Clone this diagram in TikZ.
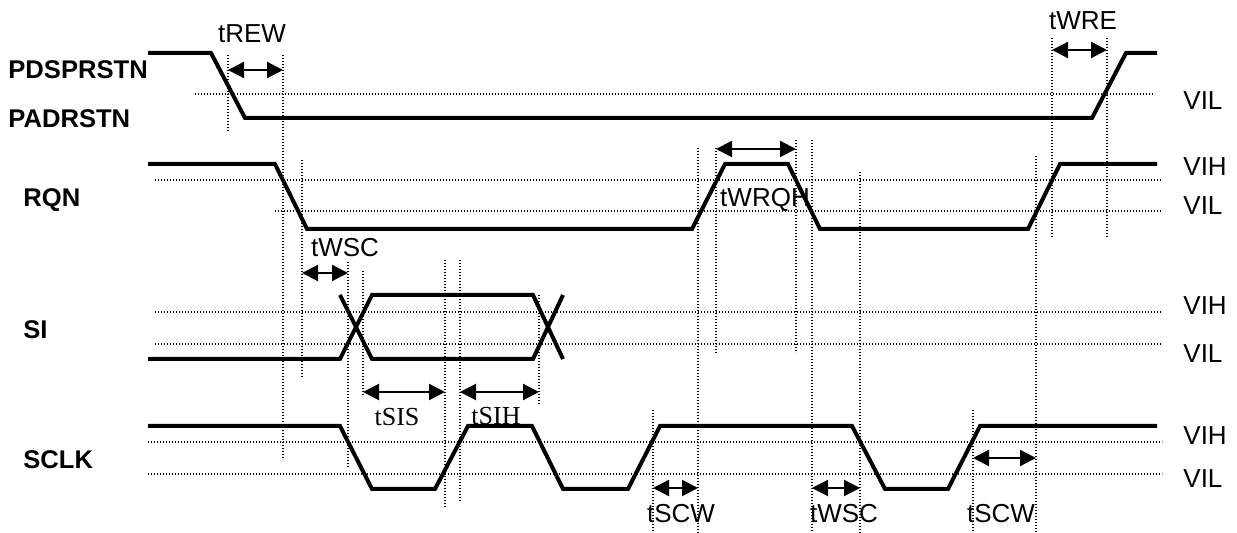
\documentclass[tikz,border=0pt]{standalone}
\usepackage{fontspec}
\setmainfont{Liberation Sans}
\newfontfamily\serifsig{Liberation Serif}
\usetikzlibrary{arrows.meta}

\begin{document}
\begin{tikzpicture}[x=0.5pt, y=-0.5pt,
  wave/.style={line width=2pt, line join=miter},
  guide/.style={line width=0.7pt, dash pattern=on 0.7pt off 0.8pt},
  dim/.style={line width=1.1pt, {Triangle[length=8pt,width=8pt]}-{Triangle[length=8pt,width=8pt]}},
  signame/.style={font=\fontsize{12.8}{15}\selectfont\bfseries, anchor=base west, inner sep=0pt},
  level/.style={font=\fontsize{13}{15}\selectfont, anchor=base west, inner sep=0pt},
  tlabel/.style={font=\fontsize{13}{15}\selectfont, anchor=base, inner sep=0pt},
  tserif/.style={font=\fontsize{13}{15}\selectfont\serifsig, anchor=base, inner sep=0pt}]
  \useasboundingbox (0,0) rectangle (1237,533);

  \draw[guide] (195,94) -- (1155,94);
  \draw[guide] (155,180) -- (1162,180);
  \draw[guide] (275,211) -- (1162,211);
  \draw[guide] (155,312) -- (1162,312);
  \draw[guide] (155,344) -- (1162,344);
  \draw[guide] (148,442) -- (1162,442);
  \draw[guide] (148,474) -- (1162,474);

  \draw[guide] (228,55) -- (228,132);
  \draw[guide] (283,55) -- (283,460);
  \draw[guide] (302,160) -- (302,378);
  \draw[guide] (348,262) -- (348,467);
  \draw[guide] (363,271) -- (363,397);
  \draw[guide] (445,260) -- (445,508);
  \draw[guide] (460,260) -- (460,502);
  \draw[guide] (539,295) -- (539,405);
  \draw[guide] (653,410) -- (653,533);
  \draw[guide] (698,148) -- (698,533);
  \draw[guide] (716,148) -- (716,353);
  \draw[guide] (796,140) -- (796,353);
  \draw[guide] (812,140) -- (812,533);
  \draw[guide] (860,172) -- (860,533);
  \draw[guide] (973,410) -- (973,533);
  \draw[guide] (1036,156) -- (1036,533);
  \draw[guide] (1052,38) -- (1052,237);
  \draw[guide] (1107,38) -- (1107,237);

  \draw[wave] (148,53) -- (211,53) -- (245,118) -- (1092,118) -- (1126,53) -- (1157,53);
  \draw[wave] (148,164) -- (275,164) -- (307,229) -- (692,229) -- (725,164) -- (788,164)
    -- (820,229) -- (1028,229) -- (1060,164) -- (1157,164);
  \draw[wave] (148,359) -- (340,359) -- (372,295) -- (533,295) -- (563,359);
  \draw[wave] (340,295) -- (372,359) -- (533,359) -- (563,295);
  \draw[wave] (148,426) -- (340,426) -- (372,489) -- (435,489) -- (468,426) -- (532,426)
    -- (563,489) -- (628,489) -- (660,426) -- (852,426) -- (885,489) -- (948,489)
    -- (980,426) -- (1157,426);

  \node[signame] (pdsprstn) at (8,79) {PDSPRSTN};
  \node[signame] (padrstn) at (8,128) {PADRSTN};
  \node[signame] (rqn) at (23,207) {RQN};
  \node[signame] (si) at (23,339) {SI};
  \node[signame] (sclk) at (23,469) {SCLK};

  \node[level] (vilrst) at (1183,110) {VIL};
  \node[level] (vihrqn) at (1183,176) {VIH};
  \node[level] (vilrqn) at (1183,215) {VIL};
  \node[level] (vihsi) at (1183,315) {VIH};
  \node[level] (vilsi) at (1183,363) {VIL};
  \node[level] (vihclk) at (1183,445) {VIH};
  \node[level] (vilclk) at (1183,488) {VIL};

  \coordinate (trewL) at (228,70);
  \coordinate (trewR) at (283,70);
  \coordinate (twreL) at (1052,50);
  \coordinate (twreR) at (1107,50);
  \coordinate (twrqhL) at (716,149);
  \coordinate (twrqhR) at (796,149);
  \coordinate (twscL) at (302,273);
  \coordinate (twscR) at (348,273);
  \coordinate (tsisL) at (363,392);
  \coordinate (tsisR) at (445,392);
  \coordinate (tsihL) at (460,392);
  \coordinate (tsihR) at (539,392);
  \coordinate (tscwL) at (653,488);
  \coordinate (tscwR) at (698,488);
  \coordinate (twscbL) at (812,488);
  \coordinate (twscbR) at (860,488);
  \coordinate (tscwbL) at (973,458);
  \coordinate (tscwbR) at (1036,458);
  \draw[dim] (trewL) -- (trewR);
  \draw[dim] (twreL) -- (twreR);
  \draw[dim] (twrqhL) -- (twrqhR);
  \draw[dim] (twscL) -- (twscR);
  \draw[dim] (tsisL) -- (tsisR);
  \draw[dim] (tsihL) -- (tsihR);
  \draw[dim] (tscwL) -- (tscwR);
  \draw[dim] (twscbL) -- (twscbR);
  \draw[dim] (tscwbL) -- (tscwbR);

  \node[tlabel] (trew) at (252,43) {tREW};
  \node[tlabel] (twre) at (1083,30) {tWRE};
  \node[tlabel] (twrqh) at (765,207) {tWRQH};
  \node[tlabel] (twsc) at (345,257) {tWSC};
  \node[tserif] (tsis) at (397,426) {tSIS};
  \node[tserif] (tsih) at (496,425) {tSIH};
  \node[tlabel] (tscw) at (681,523) {tSCW};
  \node[tlabel] (twscb) at (844,523) {tWSC};
  \node[tlabel] (tscwb) at (1001,523) {tSCW};
\end{tikzpicture}
\end{document}
